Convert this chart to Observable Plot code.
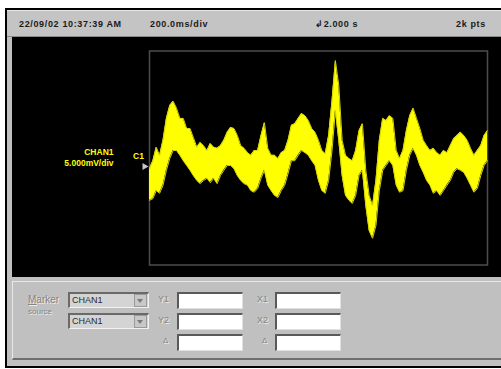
<!DOCTYPE html>
<html>
<head>
<meta charset="utf-8">
<script src="https://cdn.jsdelivr.net/npm/d3@7"></script>
<script src="https://cdn.jsdelivr.net/npm/@observablehq/plot@0.6"></script>
<style>
  html, body { margin: 0; padding: 0; background: #fff; width: 501px; height: 369px; overflow: hidden; }
  #win { position: absolute; left: 5px; top: 8px; width: 496px; height: 360px; background: #000; }
  #app { position: absolute; left: 7px; top: 10px; width: 494px; height: 356px; background: #c0c0c0; }
  #hdr { position: absolute; left: 7px; top: 10px; width: 494px; height: 25px; background: #c4c4c4;
         border-top: 1px solid #e6e6e6; border-bottom: 1px solid #8a8a8a;
         font: bold 9px "Liberation Sans", Arial, sans-serif; color: #1a1a1a; }
  #hdr span { position: absolute; top: 8px; white-space: nowrap; letter-spacing: 0.65px; }
  #scope { position: absolute; left: 12px; top: 37px; width: 489px; height: 240px; background: #000; }
  #panel { position: absolute; left: 12px; top: 281px; width: 489px; height: 76px;
           border-top: 1px solid #e8e8e8; border-left: 1px solid #e8e8e8; border-bottom: 2px solid #6e6e6e;
           background: #c0c0c0; font: 9px "Liberation Sans", Arial, sans-serif; }
  .lbl { position: absolute; color: #858585; text-shadow: 1px 1px 0 #ececec; white-space: nowrap; }
  .combo { position: absolute; width: 78px; height: 13px; background: #d4d4d4;
           border-top: 2px solid #6a6a6a; border-left: 2px solid #6a6a6a;
           border-bottom: 1px solid #f2f2f2; border-right: 1px solid #f2f2f2; }
  .combo span { position: absolute; left: 2px; top: 1px; color: #2a2a2a; font-size: 9px; }
  .combo i { position: absolute; right: 1px; top: 0px; width: 11px; height: 11px; background: #c8c8c8;
             border: 1px solid #9a9a9a; }
  .combo i:after { content: ""; position: absolute; left: 2px; top: 4px; border-left: 3px solid transparent;
             border-right: 3px solid transparent; border-top: 4px solid #7a7a7a; }
  .box { position: absolute; width: 63px; height: 14px; background: #fff;
         border-top: 2px solid #5a5a5a; border-left: 2px solid #5a5a5a;
         border-bottom: 1px solid #e0e0e0; border-right: 1px solid #e0e0e0; }
</style>
</head>
<body>
<div id="win"></div>
<div id="app"></div>
<div id="hdr">
  <span style="left:12px">22/09/02 10:37:39 AM</span>
  <span style="left:143px">200.0ms/div</span>
  <span style="left:308px">↲2.000 s</span>
  <span style="left:449px">2k pts</span>
</div>
<div id="scope"></div>
<div id="panel">
  <div class="lbl" style="left:15px;top:12px;font-size:10px"><u>M</u>arker</div>
  <div class="lbl" style="left:15px;top:25px;font-size:8px">source</div>
  <div class="combo" style="left:55px;top:10px"><span>CHAN1</span><i></i></div>
  <div class="combo" style="left:55px;top:31px"><span>CHAN1</span><i></i></div>
  <div class="lbl" style="left:145px;top:12px">Y1</div>
  <div class="lbl" style="left:145px;top:33px">Y2</div>
  <div class="lbl" style="left:150px;top:54px;font-size:8px">Δ</div>
  <div class="box" style="left:164px;top:10px"></div>
  <div class="box" style="left:164px;top:31px"></div>
  <div class="box" style="left:164px;top:52px"></div>
  <div class="lbl" style="left:244px;top:12px">X1</div>
  <div class="lbl" style="left:244px;top:33px">X2</div>
  <div class="lbl" style="left:249px;top:54px;font-size:8px">Δ</div>
  <div class="box" style="left:262px;top:10px"></div>
  <div class="box" style="left:262px;top:31px"></div>
  <div class="box" style="left:262px;top:52px"></div>
</div>
<script>
// Acquisition settings
const timePerDivMs = 200;   // 200.0 ms/div, 10 divisions
const voltsPerDivMv = 5;    // 5.000 mV/div, 8 divisions
const sampleStepMs = 20;    // envelope bins across the 2 s record
const chanOffsetMv = -1.6;  // C1 ground marker

// CHAN1 trace: upper and lower edge of the noisy waveform in each 20 ms bin (mV)
const hiMv = [
  -2.0, -0.5, 2.0, 0.5, 3.3, 7.4, 9.8, 10.6, 9.3, 7.4,
  7.4, 5.5, 5.5, 3.8, 2.0, 2.9, 2.3, 1.4, 2.7, 2.0,
  1.8, 2.3, 3.3, 4.8, 5.7, 5.5, 4.2, 2.3, 1.8, 1.0,
  0.5, 1.4, 1.4, 4.2, 6.6, 1.8, 0.5, 0.5, -0.1, 1.0,
  1.4, 3.3, 6.1, 6.4, 7.4, 8.3, 7.9, 7.0, 5.5, 4.8,
  3.3, 1.4, 0.8, 4.2, 10.7, 18.2, 13.6, 3.3, 0.5, -0.1,
  -0.5, 1.4, 5.1, 6.4, -2.3, -7.0, -8.9, -4.2, 3.3, 7.4,
  7.0, 7.9, 7.4, 1.4, -0.1, 1.4, 5.1, 7.9, 9.3, 7.4,
  5.5, 3.3, 2.3, 1.4, 1.8, 1.0, 0.5, 1.4, 1.0, 2.3,
  3.6, 4.2, 4.8, 4.2, 3.3, 1.8, 0.5, 1.4, 2.3, 4.2,
  5.1
];
const loMv = [
  -7.9, -7.6, -6.1, -6.6, -5.1, -2.3, -0.1, 1.4, 1.4, 0.5,
  -0.5, -1.4, -2.3, -3.3, -4.2, -4.8, -4.2, -3.8, -4.6, -3.8,
  -4.8, -3.3, -2.3, -1.4, -1.4, -2.0, -3.3, -4.2, -4.8, -5.1,
  -6.1, -6.4, -5.7, -3.8, -2.3, -5.1, -6.1, -7.0, -7.4, -6.1,
  -5.1, -2.9, -0.5, -0.5, 0.5, 1.4, 1.0, 0.5, -0.5, -1.4,
  -4.2, -6.1, -6.6, -4.2, 1.4, 8.9, 3.3, -3.3, -7.0, -7.9,
  -8.5, -7.0, -3.3, -2.3, -8.9, -13.6, -15.0, -12.6, -6.1, -2.3,
  -1.4, -0.5, -1.4, -5.1, -6.4, -6.1, -2.3, 0.5, 1.8, 0.5,
  -1.4, -2.7, -4.2, -5.1, -6.6, -6.1, -7.0, -6.1, -5.1, -4.2,
  -2.7, -2.0, -2.3, -2.7, -3.8, -5.1, -6.4, -5.7, -3.3, -1.4,
  -0.5
];

const trace = hiMv.map((hi, i) => ({t: i * sampleStepMs, hi, lo: loMv[i]}));
const marker = [{t: 0, v: chanOffsetMv}];
const yellow = "#ffff00";
const labelFont = {fontFamily: "Liberation Sans, Arial, sans-serif", fontWeight: "bold", fontSize: 8.5};

const chart = Plot.plot({
  width: 489,
  height: 240,
  marginLeft: 137,
  marginRight: 14,
  marginTop: 13.5,
  marginBottom: 12.5,
  style: {background: "#000", overflow: "visible"},
  x: {domain: [0, 10 * timePerDivMs], axis: null},
  y: {domain: [-4 * voltsPerDivMv, 4 * voltsPerDivMv], axis: null},
  marks: [
    Plot.frame({stroke: "#4d4d4d", strokeWidth: 1.5}),
    Plot.areaY(trace, {x: "t", y1: "lo", y2: "hi", fill: yellow}),
    Plot.line(trace, {x: "t", y: "hi", stroke: "#d6d600", strokeWidth: 1}),
    Plot.line(trace, {x: "t", y: "lo", stroke: "#d6d600", strokeWidth: 1}),
    Plot.dot(marker, {x: "t", y: "v", symbol: "triangle", r: 2.6, rotate: 90, fill: "#c8c8c8", dx: -5}),
    Plot.text(marker, {x: "t", y: "v", text: () => "C1", dx: -11, dy: -10, fill: yellow, ...labelFont}),
    Plot.text(marker, {x: "t", y: "v", text: () => "CHAN1", textAnchor: "end", dx: -36, dy: -14, fill: yellow, ...labelFont}),
    Plot.text(marker, {x: "t", y: "v", text: () => "5.000mV/div", textAnchor: "end", dx: -36, dy: -3, fill: yellow, ...labelFont})
  ]
});
document.getElementById("scope").appendChild(chart);
</script>
</body>
</html>
